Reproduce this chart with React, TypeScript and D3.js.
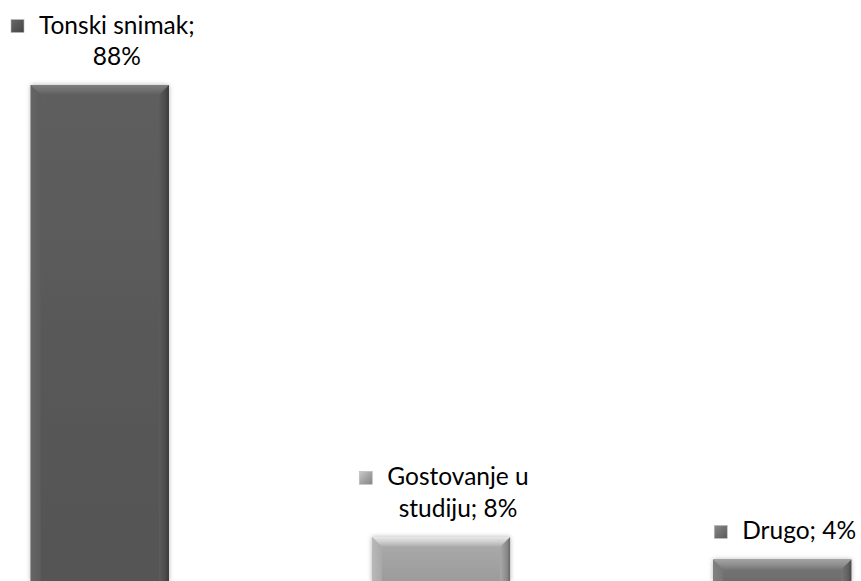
import React from "react";
import * as d3 from "d3";

const categories = ["Tonski snimak", "Gostovanje u studiju", "Drugo"];
const values = [88, 8, 4];
const labelLines = [["Tonski snimak;", "88%"], ["Gostovanje u", "studiju; 8%"], ["Drugo; 4%"]];
const barColors = ["#5c5c5c", "#a9a9a9", "#767676"];
const squareColors = ["#555555", "#a5a5a5", "#707070"];

const W = 861;
const H = 581;
const FONT = "Lato, 'Open Sans', sans-serif";
const FS = 24.5;

function measure(txt: string): number {
  if (typeof document === "undefined") return txt.length * FS * 0.5;
  const c = document.createElement("canvas");
  const ctx = c.getContext("2d")!;
  ctx.font = `${FS}px Lato`;
  return ctx.measureText(txt).width;
}

export default function App() {
  const x = d3.scaleBand<string>().domain(categories).range([0, 882]).paddingInner(0.595).paddingOuter(0.09);
  const y = d3.scaleLinear().domain([0, 88]).range([582, 85]);
  const bw = x.bandwidth();
  const bev = 10;
  const lh = 31.5;
  const sq = 13;
  const gap = 15;

  return (
    <svg width={W} height={H} style={{ position: "absolute", left: 0, top: 0, background: "#fff" }}>
      <defs>
        <filter id="sh" x="-20%" y="-20%" width="140%" height="140%">
          <feGaussianBlur in="SourceAlpha" stdDeviation="2.5" />
          <feComponentTransfer>
            <feFuncA type="linear" slope="0.3" />
          </feComponentTransfer>
          <feMerge>
            <feMergeNode />
            <feMergeNode in="SourceGraphic" />
          </feMerge>
        </filter>
        {barColors.map((c, i) => {
          const base = d3.color(c)!;
          return (
            <React.Fragment key={i}>
              <linearGradient id={`body${i}`} x1="0" y1="0" x2="0" y2="1">
                <stop offset="0" stopColor={base.brighter(0.05).formatHex()} />
                <stop offset="1" stopColor={base.darker(0.25).formatHex()} />
              </linearGradient>
              <linearGradient id={`top${i}`} x1="0" y1="0" x2="0" y2="1">
                <stop offset="0" stopColor={base.brighter(0.9).formatHex()} />
                <stop offset="0.5" stopColor={base.brighter(0.55).formatHex()} />
                <stop offset="1" stopColor={base.brighter(0.05).formatHex()} />
              </linearGradient>
              <linearGradient id={`left${i}`} x1="0" y1="0" x2="1" y2="0">
                <stop offset="0" stopColor={base.brighter(0.25).formatHex()} />
                <stop offset="1" stopColor={base.formatHex()} />
              </linearGradient>
              <linearGradient id={`right${i}`} x1="0" y1="0" x2="1" y2="0">
                <stop offset="0" stopColor={base.formatHex()} />
                <stop offset="0.7" stopColor={base.darker(0.6).formatHex()} />
                <stop offset="1" stopColor={base.darker(1.4).formatHex()} />
              </linearGradient>
              <linearGradient id={`sq${i}`} x1="0" y1="0" x2="1" y2="1">
                <stop offset="0" stopColor={d3.color(squareColors[i])!.brighter(0.6).formatHex()} />
                <stop offset="0.5" stopColor={squareColors[i]} />
                <stop offset="1" stopColor={d3.color(squareColors[i])!.darker(0.6).formatHex()} />
              </linearGradient>
            </React.Fragment>
          );
        })}
      </defs>
      {categories.map((cat, i) => {
        const x0 = x(cat)!;
        const x1 = x0 + bw;
        const y0 = y(values[i]);
        const yb = y(0);
        const cx = x0 + bw / 2;
        const lines = labelLines[i];
        const lastBase = y0 - 20;
        const firstBase = lastBase - (lines.length - 1) * lh;
        const tw = measure(lines[0]);
        const total = sq + gap + tw;
        const left = cx + 3 - total / 2;
        const textStart = left + sq + gap;
        const textCenter = textStart + tw / 2;
        return (
          <g key={cat}>
            <g filter="url(#sh)">
              <rect x={x0} y={y0} width={bw} height={yb - y0} fill={`url(#body${i})`} />
            </g>
            <polygon
              points={`${x0},${y0} ${x0 + bev},${y0 + bev} ${x0 + bev},${yb} ${x0},${yb}`}
              fill={`url(#left${i})`}
            />
            <polygon
              points={`${x1},${y0} ${x1 - bev},${y0 + bev} ${x1 - bev},${yb} ${x1},${yb}`}
              fill={`url(#right${i})`}
            />
            <polygon
              points={`${x0},${y0} ${x1},${y0} ${x1 - bev},${y0 + bev} ${x0 + bev},${y0 + bev}`}
              fill={`url(#top${i})`}
            />
            <rect
              x={left}
              y={firstBase - sq - 1}
              width={sq}
              height={sq}
              fill={`url(#sq${i})`}
              stroke="#bbb"
              strokeWidth={0.6}
            />
            {lines.map((ln, j) => (
              <text
                key={j}
                x={textCenter}
                y={firstBase + j * lh}
                textAnchor="middle"
                fontFamily={FONT}
                fontSize={FS}
                fill="#000"
              >
                {ln}
              </text>
            ))}
          </g>
        );
      })}
    </svg>
  );
}
